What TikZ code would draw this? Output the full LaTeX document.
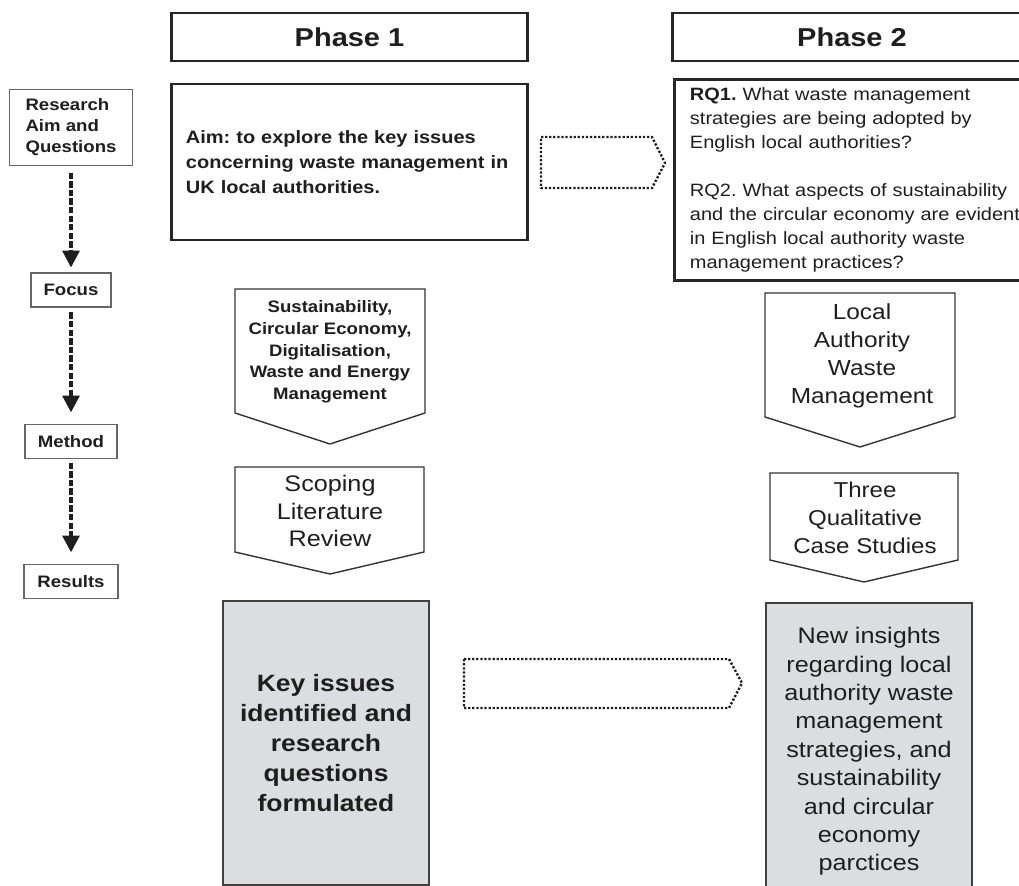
\documentclass[tikz,border=0pt]{standalone}
\usepackage{fontspec}
\setmainfont{Liberation Sans}[FakeStretch=1.12]
\usetikzlibrary{arrows.meta}
\frenchspacing

\definecolor{resgrey}{RGB}{220,221,224}
\definecolor{inkgrey}{RGB}{30,30,30}

\tikzset{
    lbl/.style={draw=black!60, line width=0.8pt, text=inkgrey, inner sep=0pt,
        align=left, font=\fontsize{11.8}{15}\selectfont\bfseries},
    dasharrow/.style={line width=2.5pt, dash pattern=on 4.5pt off 1.6pt, inkgrey,
        -{Triangle[length=12pt, width=12pt]}},
    phase/.style={draw=black!85, line width=2.1pt, text=inkgrey, inner sep=0pt,
        minimum height=1.2cm, font=\fontsize{18.4}{22}\selectfont\bfseries},
    bigbox/.style={draw=black!85, line width=2.1pt, text=inkgrey, align=left},
    penta/.style={draw=black!80, line width=1pt},
    ptext/.style={text=inkgrey, align=center, inner sep=0pt},
    outbox/.style={draw=black!75, line width=1pt, fill=resgrey, text=inkgrey,
        align=center, inner sep=0pt, minimum width=5.15cm},
    dotarrow/.style={line width=1.7pt, dash pattern=on 1.6pt off 1.3pt, inkgrey}
}

\begin{document}
\begin{tikzpicture}[x=0.025cm, y=-0.025cm]
    \useasboundingbox (0,0) rectangle (1019,886);

    % left column
    \node[lbl, minimum width=3.08cm, minimum height=1.88cm] (res) at (71,127.5)
        {Research\\Aim and\\Questions};
    \node[lbl, minimum width=2cm, minimum height=0.85cm] (foc) at (71,290) {Focus};
    \node[lbl, minimum width=2.3cm, minimum height=0.83cm] (met) at (71,441.5) {Method};
    \node[lbl, minimum width=2.35cm, minimum height=0.83cm] (rsl) at (71,581.5) {Results};

    \draw[dasharrow, shorten <=5pt, shorten >=3.5pt] (res) -- (foc);
    \draw[dasharrow, shorten <=3.5pt, shorten >=8.5pt] (foc) -- (met);
    \draw[dasharrow, shorten <=2.8pt, shorten >=8.5pt] (met) -- (rsl);

    % headers
    \node[phase, minimum width=8.875cm] (ph1) at (349.5,37) {Phase 1};
    \node[phase, minimum width=8.95cm] (ph2) at (852,37) {Phase 2};

    % aim and questions
    \node[bigbox, minimum width=8.875cm, minimum height=3.9cm, text width=8.175cm,
        inner xsep=0.35cm, font=\fontsize{12.7}{17.8}\selectfont\bfseries]
        (aim) at (349.5,162)
        {Aim: to explore the key issues\\concerning waste management in\\UK local authorities.};
    \node[bigbox, minimum width=9cm, minimum height=5cm, text width=8.25cm,
        inner xsep=0.375cm, font=\fontsize{12.7}{17}\selectfont]
        (rq) at (855,180)
        {\textbf{RQ1.} What waste management\\strategies are being adopted by\\English local authorities?\\[17pt]
         RQ2. What aspects of sustainability\\and the circular economy are evident\\in English local authority waste\\management practices?};

    \draw[dotarrow] (541,137) -- (652,137) -- (665,163) -- (652,188) -- (541,188) -- cycle;

    % focus and method, phase 1
    \draw[penta] (235,289) -- (425,289) -- (425,413) -- (330,444) -- (235,413) -- cycle;
    \node[ptext, font=\fontsize{11.8}{15.4}\selectfont\bfseries] (fcs1) at (330,352)
        {Sustainability,\\Circular Economy,\\Digitalisation,\\Waste and Energy\\Management};
    \draw[penta] (235,467) -- (424,467) -- (424,552) -- (330,574) -- (235,552) -- cycle;
    \node[ptext, font=\fontsize{16}{19.5}\selectfont] (mth1) at (330,511)
        {Scoping\\Literature\\Review};

    % focus and method, phase 2
    \draw[penta] (765,293) -- (955,293) -- (955,417) -- (860,447) -- (765,417) -- cycle;
    \node[ptext, font=\fontsize{15.5}{20}\selectfont] (fcs2) at (862,356)
        {Local\\Authority\\Waste\\Management};
    \draw[penta] (770,473) -- (958,473) -- (958,560) -- (864,582) -- (770,560) -- cycle;
    \node[ptext, font=\fontsize{15.3}{20}\selectfont] (mth2) at (865,518)
        {Three\\Qualitative\\Case Studies};

    % results
    \node[outbox, minimum height=7.1cm, font=\fontsize{16.8}{21.3}\selectfont\bfseries]
        (out1) at (326,743)
        {Key issues\\identified and\\research\\questions\\formulated};
    \node[outbox, minimum height=7.425cm, font=\fontsize{16}{20.2}\selectfont]
        (out2) at (869,751.5)
        {New insights\\regarding local\\authority waste\\management\\strategies, and\\sustainability\\and circular\\economy\\parctices};

    \draw[dotarrow] (464,659) -- (729,659) -- (742,683) -- (729,708) -- (464,708) -- cycle;
\end{tikzpicture}
\end{document}
